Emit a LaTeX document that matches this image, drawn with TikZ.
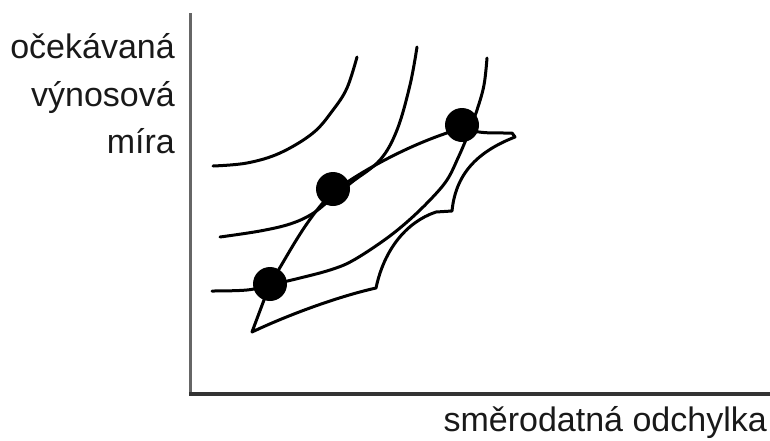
\documentclass[tikz,border=0pt]{standalone}
\usepackage{fontspec}
\setmainfont{Liberation Sans}
\begin{document}
\begin{tikzpicture}[x=1pt,y=-1pt,
  curve/.style={line width=3pt,line join=round,line cap=round,black},
  dot/.style={circle,fill=black,inner sep=0pt,minimum size=34pt},
  lbl/.style={font=\fontsize{34}{40}\selectfont,text=black!90,inner sep=0pt}]
\useasboundingbox (0,0) rectangle (770,440);

% axes
\draw[line width=3pt,black!60] (190.5,13) -- (190.5,394);
\draw[line width=3.5pt,black!80] (189,394) -- (770,394);

% axis labels
\node[lbl,anchor=base east] (ylab1) at (175,58) {očekávaná};
\node[lbl,anchor=base east] (ylab2) at (175,106) {výnosová};
\node[lbl,anchor=base east] (ylab3) at (175,153) {míra};
\node[lbl,anchor=base east] (xlab) at (767,431) {směrodatná odchylka};

% indifference curves
\draw[curve] plot[smooth,tension=0.6] coordinates
  {(213,166) (247,163) (280,153) (313,133) (333,110) (347,88) (357,57)};
\draw[curve] plot[smooth,tension=0.6] coordinates
  {(220,237) (260,231) (290,224) (312,214) (331,199) (352,182) (380,160) (397,130) (410,85) (417,47)};
\draw[curve] plot[smooth,tension=0.6] coordinates
  {(212,291) (247,290) (270,285) (300,278) (330,270) (352,261) (383,241) (407,222) (430,200) (447,180) (458,158) (467,137) (477,110) (484,85) (487,58)};

% feasible set: efficient frontier and scalloped lower edge
\draw[curve] (270,284) .. controls (290,252) and (305,220) .. (333,192)
  .. controls (370,165) and (420,140) .. (463,128)
  .. controls (480,133) .. (512,133) -- (515,137)
  .. controls (482,150) and (456,170) .. (452,211)
  -- (436,212) .. controls (406,222) and (384,250) .. (376,288)
  .. controls (340,296) and (290,314) .. (252,332)
  -- (270,284);

% tangency points
\node[dot] (p1) at (270,284) {};
\node[dot] (p2) at (333,189) {};
\node[dot] (p3) at (462,125) {};
\end{tikzpicture}
\end{document}
